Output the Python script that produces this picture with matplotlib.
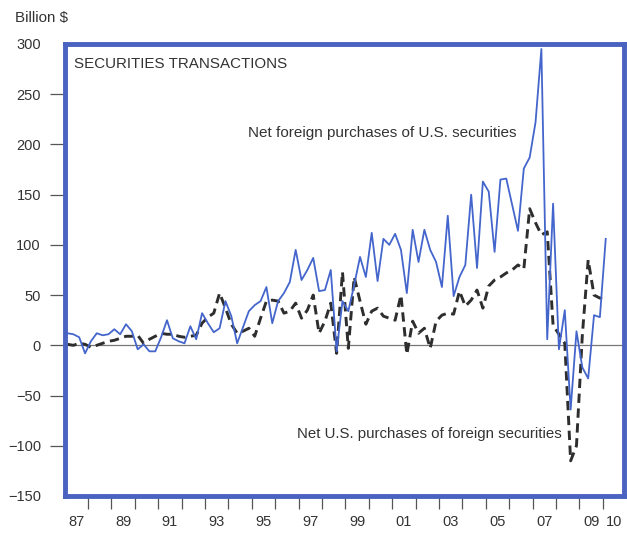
import numpy as np
import matplotlib.pyplot as plt

plt.rcParams['font.family'] = ['Liberation Sans', 'DejaVu Sans']

# quarterly values, 1987Q1 .. 2010Q1, billion $
foreign_buys_us = [
    12, 11, 8, -8,
    4, 12, 10, 11,
    16, 11, 21, 14,
    -4, 1, -6, -6,
    8, 25, 7, 4,
    2, 19, 6, 32,
    22, 13, 17, 44,
    29, 2, 18, 34,
    40, 44, 58, 22,
    44, 52, 63, 95,
    65, 75, 87, 54,
    55, 75, -6, 44,
    34, 60, 88, 68,
    112, 64, 106, 100,
    111, 95, 52, 115,
    83, 115, 95, 83,
    58, 129, 49, 68,
    80, 150, 77, 163,
    153, 93, 165, 166,
    140, 114, 176, 187,
    222, 295, 6, 141,
    -4, 35, -64, 14,
    -22, -33, 30, 28,
    106,
]
us_buys_foreign = [
    1, 0, 2, 1,
    -2, 0, 2, 4,
    5, 7, 9, 9,
    10, 2, 6, 9,
    12, 11, 11, 9,
    8, 9, 10, 22,
    28, 32, 52, 37,
    21, 12, 14, 17,
    9, 27, 44, 45,
    44, 32, 34, 42,
    27, 35, 50, 12,
    24, 42, -8, 73,
    -3, 68, 44, 21,
    34, 37, 29, 27,
    25, 50, -9, 24,
    12, 17, -3, 24,
    30, 32, 31, 54,
    39, 45, 55, 37,
    59, 65, 68, 72,
    75, 80, 76, 136,
    122, 110, 113, 20,
    11, 2, -115, -100,
    10, 85, 50, 47,
    47,
]
year_labels = ['87', '89', '91', '93', '95', '97', '99', '01', '03', '05', '07', '09', '10']
label_years = [1987, 1989, 1991, 1993, 1995, 1997, 1999, 2001, 2003, 2005, 2007, 2009, 2010]
y_ticks = [-150, -100, -50, 0, 50, 100, 150, 200, 250, 300]

frame_blue = '#4a62c0'
line_blue = '#4466cc'
text_col = '#333333'

t = 1987 + (np.arange(len(foreign_buys_us)) + 0.5) / 4

fig = plt.figure(figsize=(6.27, 5.37), dpi=100)
ax = fig.add_axes([0.103, 0.0764, 0.892, 0.8417])

ax.axhline(0, color='#777777', lw=0.9, zorder=1)
ax.plot(t, foreign_buys_us, color=line_blue, lw=1.3, zorder=3)
ax.plot(t, us_buys_foreign, color='#2e2e2e', lw=2.1, ls=(0, (3.2, 1.9)), zorder=2)

ax.set_xlim(1987, 2010.9)
ax.set_ylim(-150, 300)

for s in ax.spines.values():
    s.set_color(frame_blue)
    s.set_linewidth(3.5)

ax.set_yticks(y_ticks)
ax.tick_params(axis='y', direction='out', length=11, width=0.9, color='#555555',
               pad=6, labelsize=10.5, labelcolor=text_col)
yt = ax.yaxis.get_major_ticks()
yt[0].tick1line.set_visible(False)
yt[-1].tick1line.set_visible(False)

ax.set_xticks(np.arange(1988, 2011))
ax.set_xticklabels([])
ax.set_xticks([y + 0.5 for y in label_years], minor=True)
ax.set_xticklabels(year_labels, minor=True)
ax.tick_params(axis='x', which='major', direction='out', length=9, width=0.9, color='#555555')
ax.tick_params(axis='x', which='minor', length=0, pad=14, labelsize=10.5, labelcolor=text_col)

ax.text(1987.4, 280, 'SECURITIES TRANSACTIONS', fontsize=10.9, color=text_col, va='center')
ax.text(1994.84, 211, 'Net foreign purchases of U.S. securities', fontsize=11,
        color=text_col, va='center')
ax.text(1996.93, -88, 'Net U.S. purchases of foreign securities', fontsize=10.8,
        color=text_col, va='center')
fig.text(0.024, 0.966, 'Billion $', fontsize=10.9, color=text_col, va='center')

fig.savefig('out.png', dpi=100)
